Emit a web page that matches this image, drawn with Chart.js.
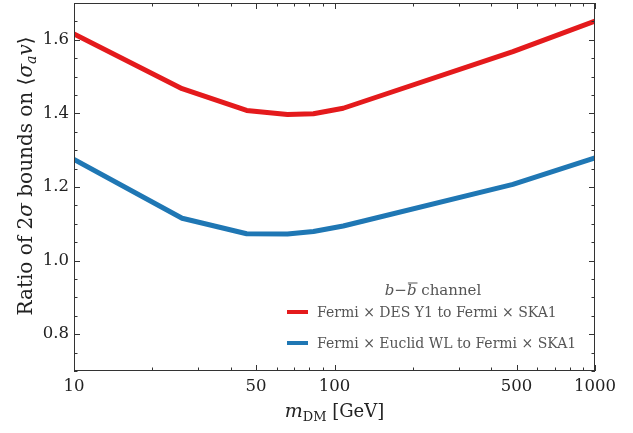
<!DOCTYPE html>
<html>
<head>
<meta charset="utf-8">
<script src="https://cdn.jsdelivr.net/npm/chart.js@4"></script>
<style>
  html, body { margin: 0; padding: 0; background: #fff; }
  #wrap { width: 633px; height: 433px; }
</style>
</head>
<body>
<div id="wrap"><canvas id="ratioChart" width="633" height="433"></canvas></div>
<script>
// dark matter mass [GeV]
const masses = [10, 26, 46, 66, 83, 108, 484, 1000];
// ratio of 2-sigma bounds, b-bbar channel
const desY1Ratio = [1.616, 1.467, 1.408, 1.397, 1.399, 1.414, 1.568, 1.651];
const euclidRatio = [1.275, 1.115, 1.073, 1.072, 1.079, 1.094, 1.207, 1.279];
const seriesNames = [
  "Fermi \u00d7 DES Y1 to Fermi \u00d7 SKA1",
  "Fermi \u00d7 Euclid WL to Fermi \u00d7 SKA1",
];
const xTickValues = [10, 50, 100, 500, 1000];
const yTickValues = [0.8, 1.0, 1.2, 1.4, 1.6];

const SERIF = "'DejaVu Serif', serif";

function pts(ys) {
  return masses.map((m, i) => ({ x: m, y: ys[i] }));
}

// draws a run of text pieces, each with its own font / baseline shift
function drawRuns(ctx, runs, x, y) {
  let cx = x;
  runs.forEach((r) => {
    ctx.font = r.font;
    ctx.fillText(r.text, cx, y + (r.dy || 0));
    const w = ctx.measureText(r.text).width;
    if (r.over) {
      ctx.save();
      ctx.lineWidth = 1;
      ctx.beginPath();
      ctx.moveTo(cx + 1, y + r.over);
      ctx.lineTo(cx + w + 1, y + r.over);
      ctx.stroke();
      ctx.restore();
    }
    cx += w;
  });
  return cx - x;
}
function runsWidth(ctx, runs) {
  let w = 0;
  runs.forEach((r) => { ctx.font = r.font; w += ctx.measureText(r.text).width; });
  return w;
}

// frame with inward ticks on all four sides, axis titles, legend
const framePlugin = {
  id: "frame",
  afterDatasetsDraw(chart) {
    const { ctx, chartArea: a, scales } = chart;
    const xs = scales.x, ys = scales.y;
    ctx.save();
    ctx.strokeStyle = "#333";
    ctx.lineWidth = 1;
    ctx.strokeRect(a.left + 0.5, a.top + 0.5, a.right - a.left - 1, a.bottom - a.top - 1);

    ctx.beginPath();
    const xMinor = [];
    [10, 100].forEach((d) => { for (let k = 2; k <= 9; k++) xMinor.push(k * d); });
    xTickValues.forEach((v) => {
      const px = Math.round(xs.getPixelForValue(v)) + 0.5;
      ctx.moveTo(px, a.bottom); ctx.lineTo(px, a.bottom - 6);
      ctx.moveTo(px, a.top); ctx.lineTo(px, a.top + 6);
    });
    xMinor.forEach((v) => {
      if (xTickValues.includes(v)) return;
      const px = Math.round(xs.getPixelForValue(v)) + 0.5;
      ctx.moveTo(px, a.bottom); ctx.lineTo(px, a.bottom - 3.5);
      ctx.moveTo(px, a.top); ctx.lineTo(px, a.top + 3.5);
    });
    for (let i = 14; i <= 34; i++) {
      const v = i * 0.05;
      const major = yTickValues.some((t) => Math.abs(t - v) < 1e-6);
      const len = major ? 6 : 3.5;
      const py = Math.round(ys.getPixelForValue(v)) + 0.5;
      ctx.moveTo(a.left, py); ctx.lineTo(a.left + len, py);
      ctx.moveTo(a.right, py); ctx.lineTo(a.right - len, py);
    }
    ctx.stroke();

    // x axis title
    ctx.fillStyle = "#222";
    ctx.strokeStyle = "#222";
    ctx.textBaseline = "alphabetic";
    ctx.textAlign = "left";
    const xt = [
      { text: "m", font: "italic 19px " + SERIF },
      { text: "DM", font: "13px " + SERIF, dy: 4 },
      { text: " [GeV]", font: "18px " + SERIF },
    ];
    const xw = runsWidth(ctx, xt);
    drawRuns(ctx, xt, (a.left + a.right) / 2 - xw / 2, 417);

    // y axis title, rotated
    const yt = [
      { text: "Ratio of 2", font: "20px " + SERIF },
      { text: "\u03c3", font: "italic 20px " + SERIF },
      { text: " bounds on \u27e8", font: "20px " + SERIF },
      { text: "\u03c3", font: "italic 20px " + SERIF },
      { text: "a", font: "italic 14px " + SERIF, dy: 4 },
      { text: "v", font: "italic 20px " + SERIF },
      { text: "\u27e9", font: "20px " + SERIF },
    ];
    ctx.save();
    ctx.translate(32, 176);
    ctx.rotate(-Math.PI / 2);
    const yw = runsWidth(ctx, yt);
    drawRuns(ctx, yt, -yw / 2, 0);
    ctx.restore();

    // legend
    ctx.fillStyle = "#555";
    ctx.strokeStyle = "#555";
    const lt = [
      { text: "b", font: "italic 15px " + SERIF },
      { text: "\u2212", font: "15px " + SERIF },
      { text: "b", font: "italic 15px " + SERIF, over: -12 },
      { text: " channel", font: "15px " + SERIF },
    ];
    const lw = runsWidth(ctx, lt);
    drawRuns(ctx, lt, 433 - lw / 2, 295);
    chart.data.datasets.forEach((ds, i) => {
      const ly = 312 + i * 31;
      ctx.strokeStyle = ds.borderColor;
      ctx.lineWidth = 4;
      ctx.beginPath();
      ctx.moveTo(287, ly); ctx.lineTo(308, ly);
      ctx.stroke();
      ctx.fillStyle = "#555";
      ctx.font = "14px " + SERIF;
      ctx.textBaseline = "middle";
      ctx.fillText(ds.label, 317, ly + 1);
      ctx.textBaseline = "alphabetic";
    });
    ctx.restore();
  },
};

new Chart(document.getElementById("ratioChart"), {
  type: "line",
  data: {
    datasets: [
      { label: seriesNames[0], data: pts(desY1Ratio), borderColor: "#e41a1c" },
      { label: seriesNames[1], data: pts(euclidRatio), borderColor: "#1f77b4" },
    ],
  },
  options: {
    responsive: false,
    animation: false,
    layout: { padding: { left: 0, top: 3, right: 38, bottom: 0 } },
    elements: {
      line: { borderWidth: 5, tension: 0, borderCapStyle: "butt", borderJoinStyle: "round" },
      point: { radius: 0 },
    },
    plugins: { legend: { display: false }, tooltip: { enabled: false } },
    scales: {
      x: {
        type: "logarithmic",
        min: 10,
        max: 1000,
        grid: { display: false, drawTicks: false },
        border: { display: false },
        afterBuildTicks: (s) => { s.ticks = xTickValues.map((v) => ({ value: v })); },
        afterFit: (s) => { s.height = 62; s.paddingLeft = 0; s.paddingRight = 0; },
        ticks: {
          autoSkip: false,
          maxRotation: 0,
          padding: 6,
          color: "#222",
          font: { family: SERIF, size: 16.5 },
          callback: (v) => String(v),
        },
      },
      y: {
        type: "linear",
        min: 0.7,
        max: 1.7,
        grid: { display: false, drawTicks: false },
        border: { display: false },
        afterBuildTicks: (s) => { s.ticks = yTickValues.map((v) => ({ value: v })); },
        afterFit: (s) => { s.width = 74; s.paddingTop = 0; s.paddingBottom = 0; },
        ticks: {
          padding: 5,
          color: "#222",
          font: { family: SERIF, size: 16.5 },
          callback: (v) => Number(v).toFixed(1),
        },
      },
    },
  },
  plugins: [framePlugin],
});
</script>
</body>
</html>
